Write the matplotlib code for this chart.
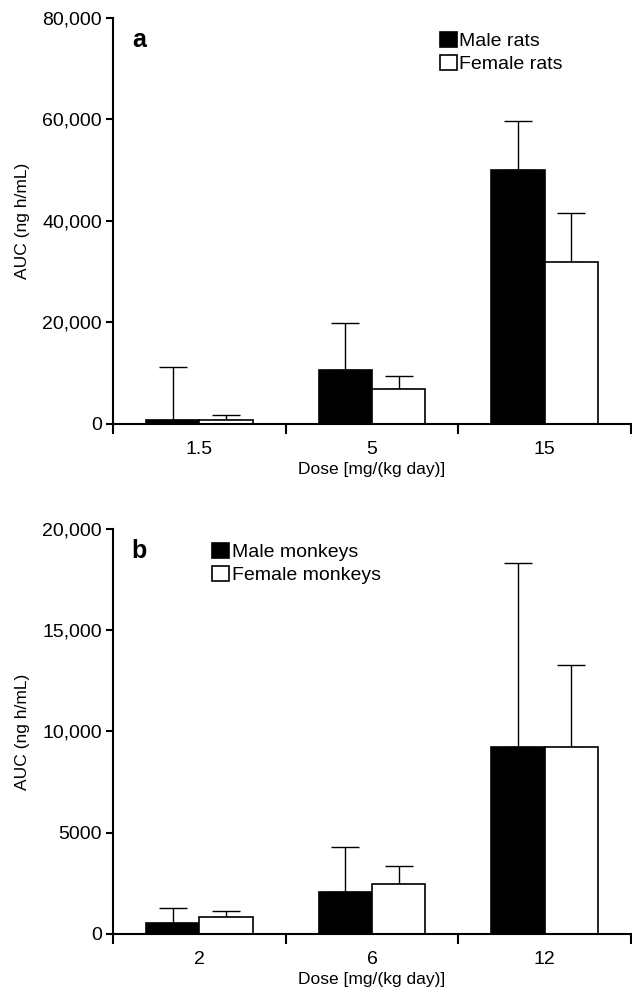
import matplotlib.pyplot as plt
import numpy as np

plt.rcParams['font.family'] = ['Liberation Sans', 'DejaVu Sans']

# panel a: rats
rat_doses = ['1.5', '5', '15']
rat_male = [850, 10600, 50100]
rat_male_err = [10400, 9250, 9550]
rat_female = [720, 6800, 32000]
rat_female_err = [1000, 2600, 9550]

# panel b: monkeys
monkey_doses = ['2', '6', '12']
monkey_male = [540, 2090, 9230]
monkey_male_err = [730, 2200, 9100]
monkey_female = [860, 2470, 9220]
monkey_female_err = [250, 880, 4050]

fig = plt.figure(figsize=(6.32, 9.99), dpi=100)
ax1 = fig.add_axes([0.1788, 0.5756, 0.8196, 0.4064])
ax2 = fig.add_axes([0.1788, 0.0651, 0.8196, 0.4054])


def panel(ax, doses, male, male_err, female, female_err, ymax, yticks, ylabels,
          letter, labels, leg_x):
    x = np.arange(len(doses)) + 0.5
    w = 0.308
    zeros = np.zeros(len(doses))
    ax.bar(x - w / 2, male, w, color='black', edgecolor='black', linewidth=1.2,
           label=labels[0], zorder=2)
    ax.bar(x + w / 2, female, w, color='white', edgecolor='black', linewidth=1.2,
           label=labels[1], zorder=2)
    ax.errorbar(x - w / 2, male, yerr=[zeros, male_err], fmt='none', ecolor='black',
                elinewidth=1.0, capsize=10, capthick=1.0, zorder=1)
    ax.errorbar(x + w / 2, female, yerr=[zeros, female_err], fmt='none', ecolor='black',
                elinewidth=1.0, capsize=10, capthick=1.0, zorder=1)
    ax.set_xlim(0, len(doses))
    ax.set_ylim(0, ymax)
    ax.spines['top'].set_visible(False)
    ax.spines['right'].set_visible(False)
    ax.spines['left'].set_linewidth(1.5)
    ax.spines['bottom'].set_linewidth(1.5)
    ax.set_xticks(np.arange(len(doses) + 1))
    ax.set_xticklabels([])
    ax.set_xticks(x, minor=True)
    ax.set_xticklabels(doses, minor=True, fontsize=14)
    ax.tick_params(axis='x', which='major', length=7, width=1.5, direction='out')
    ax.tick_params(axis='x', which='minor', length=0, pad=12)
    ax.set_yticks(yticks)
    ax.set_yticklabels(ylabels, fontsize=14)
    ax.tick_params(axis='y', length=5, width=1.5, direction='out', pad=3)
    ax.set_ylabel('AUC (ng h/mL)', fontsize=12.5, labelpad=9)
    ax.set_xlabel('Dose [mg/(kg day)]', fontsize=12.5, labelpad=3)
    ax.text(0.05, 0.945, letter, transform=ax.transAxes, fontsize=18,
            fontweight='bold', va='center', ha='center')
    ax.legend(loc='upper left', bbox_to_anchor=(leg_x, 1.0), frameon=False,
              fontsize=14, handlelength=0.85, handleheight=0.85, handletextpad=0.15,
              labelspacing=0.25, borderaxespad=0.3)


panel(ax1, rat_doses, rat_male, rat_male_err, rat_female, rat_female_err,
      80000, [0, 20000, 40000, 60000, 80000],
      ['0', '20,000', '40,000', '60,000', '80,000'],
      'a', ['Male rats', 'Female rats'], 0.605)
panel(ax2, monkey_doses, monkey_male, monkey_male_err, monkey_female, monkey_female_err,
      20000, [0, 5000, 10000, 15000, 20000],
      ['0', '5000', '10,000', '15,000', '20,000'],
      'b', ['Male monkeys', 'Female monkeys'], 0.165)

fig.savefig('out.png', dpi=100)
